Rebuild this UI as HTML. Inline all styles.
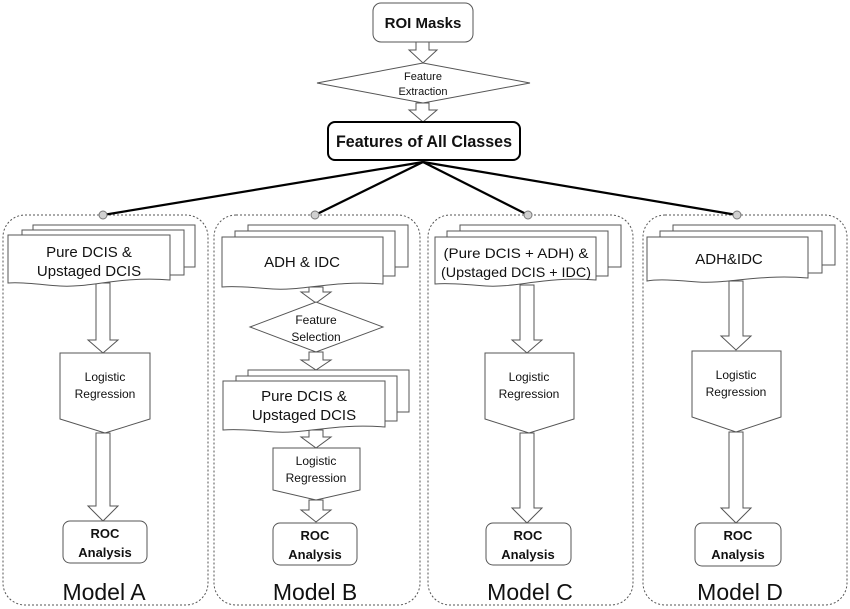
<!DOCTYPE html>
<html><head><meta charset="utf-8"><style>
html,body{margin:0;padding:0;background:#fff;}
svg{display:block;font-family:"Liberation Sans",sans-serif;}
text{fill:#111;}
</style></head><body>
<svg width="850" height="609" viewBox="0 0 850 609" xmlns="http://www.w3.org/2000/svg">
<g fill="none" stroke="#555" stroke-width="1" stroke-dasharray="2,2">
<rect x="3" y="215" width="205" height="390" rx="22"/>
<rect x="214" y="215" width="206" height="390" rx="22"/>
<rect x="428" y="215" width="205" height="390" rx="22"/>
<rect x="643" y="215" width="204" height="390" rx="22"/>
</g>
<g stroke="#000" stroke-width="2.2">
<line x1="423" y1="162" x2="103" y2="215"/>
<line x1="423" y1="162" x2="315" y2="215"/>
<line x1="423" y1="162" x2="528" y2="215"/>
<line x1="423" y1="162" x2="737" y2="215"/>
</g>
<g fill="#d0d0d0" stroke="#777" stroke-width="1">
<circle cx="103" cy="215" r="4"/><circle cx="315" cy="215" r="4"/><circle cx="528" cy="215" r="4"/><circle cx="737" cy="215" r="4"/>
</g>
<g fill="#fff" stroke="#555" stroke-width="1">
<rect x="373" y="3" width="100" height="39" rx="8"/>
<polygon points="416,42 429,42 429,50 437,50 423,63 409,50 416,50"/>
<polygon points="317,83 423,63 530,83 423,103"/>
<polygon points="416,103 429,103 429,110 437,110 423,122 409,110 416,110"/>
<polygon points="96,283 110,283 110,340 118,340 103,353 88,340 96,340"/>
<polygon points="96,433 110,433 110,506 118,506 103,521 88,506 96,506"/>
<polygon points="309,287 323,287 323,292 331,292 316,303 301,292 309,292"/>
<polygon points="309,352 323,352 323,360 331,360 316,370 301,360 309,360"/>
<polygon points="309,430 323,430 323,437 331,437 316,448 301,437 309,437"/>
<polygon points="309,500 323,500 323,510 331,510 316,522 301,510 309,510"/>
<polygon points="520,285 534,285 534,340 542,340 527,353 512,340 520,340"/>
<polygon points="520,433 534,433 534,508 542,508 527,523 512,508 520,508"/>
<polygon points="729,281 743,281 743,336 751,336 736,350 721,336 729,336"/>
<polygon points="729,432 743,432 743,508 751,508 736,523 721,508 729,508"/>
<rect x="33" y="225" width="162" height="42"/>
<rect x="22" y="230" width="162" height="45"/>
<path d="M8,235 H170 V280 C120,276 90,288 60,286 C35,284 20,282 8,283 Z"/>
<rect x="248" y="225" width="160" height="42"/>
<rect x="235" y="231" width="160" height="45"/>
<path d="M222,237 H383 V284 C333,280 303,291 273,289 C248,287 233,286 222,287 Z"/>
<polygon points="250,327 316,302 383,327 316,352"/>
<rect x="248" y="370" width="161" height="42"/>
<rect x="236" y="376" width="161" height="45"/>
<path d="M223,381 H385 V427 C335,423 305,434 275,432 C250,430 235,429 223,430 Z"/>
<rect x="460" y="225" width="161" height="42"/>
<rect x="447" y="231" width="161" height="45"/>
<path d="M435,237 H596 V280 C546,276 516,288 486,286 C461,284 446,283 435,284 Z"/>
<rect x="673" y="225" width="162" height="40"/>
<rect x="660" y="231" width="162" height="42"/>
<path d="M647,237 H808 V278 C758,274 728,284 698,282 C673,280 658,279 647,281 Z"/>
<polygon points="60,353 150,353 150,419 105,433 60,419"/>
<polygon points="273,448 360,448 360,490 316,500 273,490"/>
<polygon points="485,353 574,353 574,419 529,433 485,419"/>
<polygon points="692,351 781,351 781,417 736,432 692,417"/>
<rect x="63" y="521" width="84" height="42" rx="7"/>
<rect x="273" y="523" width="84" height="42" rx="7"/>
<rect x="486" y="523" width="85" height="42" rx="7"/>
<rect x="695" y="523" width="86" height="43" rx="7"/>
</g>
<rect x="328" y="122" width="192" height="38" rx="7" fill="#fff" stroke="#000" stroke-width="2"/>
<g text-anchor="middle">
<text x="423" y="28" font-size="15" font-weight="bold">ROI Masks</text>
<text x="423" y="80" font-size="11">Feature</text>
<text x="423" y="95" font-size="11">Extraction</text>
<text x="424" y="147" font-size="16.5" font-weight="bold" textLength="176" lengthAdjust="spacingAndGlyphs">Features of All Classes</text>

<text x="89" y="257" font-size="15">Pure DCIS &amp;</text>
<text x="89" y="276" font-size="15">Upstaged DCIS</text>
<text x="302" y="267" font-size="15">ADH &amp; IDC</text>
<text x="516" y="258" font-size="14" textLength="145" lengthAdjust="spacingAndGlyphs">(Pure DCIS + ADH) &amp;</text>
<text x="516" y="277" font-size="14" textLength="150" lengthAdjust="spacingAndGlyphs">(Upstaged DCIS + IDC)</text>
<text x="729" y="264" font-size="15">ADH&amp;IDC</text>

<text x="316" y="324" font-size="12">Feature</text>
<text x="316" y="341" font-size="12">Selection</text>
<text x="304" y="401" font-size="15">Pure DCIS &amp;</text>
<text x="304" y="420" font-size="15">Upstaged DCIS</text>

<text x="105" y="381" font-size="12">Logistic</text>
<text x="105" y="398" font-size="12">Regression</text>
<text x="316" y="465" font-size="12">Logistic</text>
<text x="316" y="482" font-size="12">Regression</text>
<text x="529" y="381" font-size="12">Logistic</text>
<text x="529" y="398" font-size="12">Regression</text>
<text x="736" y="379" font-size="12">Logistic</text>
<text x="736" y="396" font-size="12">Regression</text>

<g font-size="13" font-weight="bold">
<text x="105" y="538">ROC</text><text x="105" y="557">Analysis</text>
<text x="315" y="540">ROC</text><text x="315" y="559">Analysis</text>
<text x="528" y="540">ROC</text><text x="528" y="559">Analysis</text>
<text x="738" y="540">ROC</text><text x="738" y="559">Analysis</text>
</g>
<g font-size="23">
<text x="104" y="600">Model A</text>
<text x="315" y="600">Model B</text>
<text x="530" y="600">Model C</text>
<text x="740" y="600">Model D</text>
</g>
</g>
</svg>
</body></html>
